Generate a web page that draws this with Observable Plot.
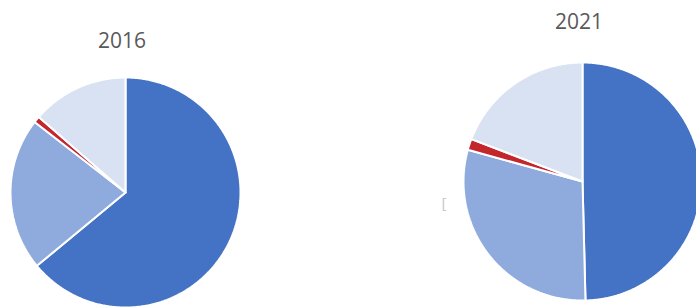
<!DOCTYPE html>
<html>
<head>
<meta charset="utf-8">
<script src="https://cdn.jsdelivr.net/npm/d3@7"></script>
<script src="https://cdn.jsdelivr.net/npm/@observablehq/plot@0.6"></script>
<style>
  html, body { margin: 0; padding: 0; background: #fff; overflow: hidden; }
  #wrap { position: relative; width: 696px; height: 307px; overflow: hidden; background: #fff; }
  .pie { position: absolute; }
  .title { position: absolute; font-family: "Open Sans", sans-serif; font-size: 21px; color: #595959; transform: translate(-50%, -50%); white-space: nowrap; }
</style>
</head>
<body>
<div id="wrap"></div>
<script>
// ---- data ----
const years = ["2016", "2021"];
const categories = ["Category 1", "Category 2", "Category 3", "Category 4"];
const values2016 = [64.0, 21.5, 0.9, 13.6];
const values2021 = [49.6, 29.7, 1.5, 19.2];
const colors = ["#4472C4", "#8FAADC", "#C3262B", "#D9E2F3"];

// ---- layout ----
const layouts = [
  {cx: 125, cy: 192, r: 115, tx: 122, ty: 40},
  {cx: 582, cy: 181, r: 119, tx: 579, ty: 21}
];
const seriesValues = [values2016, values2021];

const wrap = document.getElementById("wrap");

function slicePoints(a0, a1, key) {
  const pts = [{k: key, x: 0, y: 0}];
  const n = Math.max(2, Math.ceil((a1 - a0) / (Math.PI / 360)));
  for (let i = 0; i <= n; i++) {
    const a = a0 + (a1 - a0) * i / n;
    pts.push({k: key, x: Math.sin(a), y: Math.cos(a)});
  }
  pts.push({k: key, x: 0, y: 0});
  return pts;
}

years.forEach((year, yi) => {
  const L = layouts[yi];
  const rows = categories.map((c, i) => ({category: c, value: seriesValues[yi][i]}));
  const arcs = d3.pie().sort(null).value(d => d.value)(rows);
  const marks = arcs.map((a, i) =>
    Plot.line(slicePoints(a.startAngle, a.endAngle, a.data.category), {
      x: "x", y: "y", z: "k",
      fill: colors[i], stroke: "#fff", strokeWidth: 2, strokeLinejoin: "miter", curve: "linear"
    })
  );
  const size = 2 * L.r + 4;
  const chart = Plot.plot({
    width: size, height: size,
    margin: 2,
    x: {domain: [-1, 1], axis: null},
    y: {domain: [-1, 1], axis: null},
    marks
  });
  chart.classList.add("pie");
  chart.style.left = (L.cx - size / 2) + "px";
  chart.style.top = (L.cy - size / 2) + "px";
  chart.style.background = "transparent";
  wrap.appendChild(chart);

  const t = document.createElement("div");
  t.className = "title";
  t.textContent = year;
  t.style.left = L.tx + "px";
  t.style.top = L.ty + "px";
  wrap.appendChild(t);
});

// faint cut-off label fragment visible at left of second pie
const frag = document.createElement("div");
frag.className = "title";
frag.textContent = "[";
frag.style.fontSize = "15px";
frag.style.color = "#c8c8c8";
frag.style.left = "444px";
frag.style.top = "202px";
wrap.appendChild(frag);
</script>
</body>
</html>
